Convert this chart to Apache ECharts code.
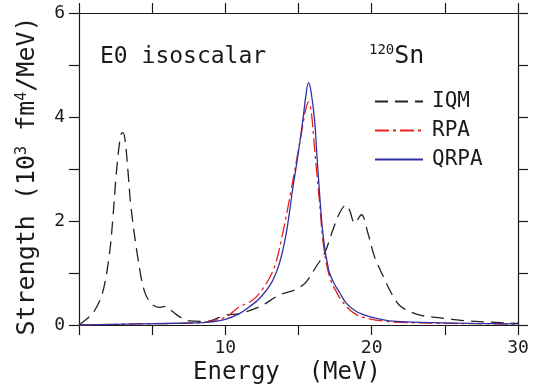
<!DOCTYPE html>
<html>
<head>
<meta charset="utf-8">
<script src="https://cdn.jsdelivr.net/npm/echarts@6/dist/echarts.min.js"></script>
<style>html,body{margin:0;padding:0;background:#fff;}#c{width:543px;height:389px;}</style>
</head>
<body>
<div id="c"></div>
<script>
// ---- data ----
var iqmE = [0, 0.46, 1.03, 1.6, 2.05, 2.3, 2.5, 2.7, 2.88, 3.0, 3.15, 3.35, 3.54, 3.99, 4.45, 4.91, 5.48, 5.89, 6.39, 6.85, 7.5, 8.7, 10.0, 10.96, 12.33, 13.7, 14.4, 14.95, 15.53, 16.2, 16.78, 17.35, 17.8, 18.26, 18.5, 18.84, 19.3, 19.75, 20.2, 20.8, 21.35, 21.9, 22.6, 23.3, 24.2, 25.5, 26.5, 28.8, 30];
var iqmS = [0, 0.10, 0.26, 0.61, 1.30, 2.0, 2.75, 3.35, 3.67, 3.70, 3.55, 2.95, 2.30, 1.35, 0.67, 0.42, 0.34, 0.36, 0.26, 0.16, 0.08, 0.07, 0.19, 0.22, 0.35, 0.58, 0.64, 0.70, 0.83, 1.12, 1.38, 1.83, 2.15, 2.31, 2.2, 1.96, 2.12, 1.76, 1.31, 0.93, 0.61, 0.38, 0.26, 0.19, 0.15, 0.11, 0.08, 0.045, 0.03];

var rpaE = [0, 4, 8, 8.7, 10.0, 10.96, 11.87, 12.67, 13.36, 13.92, 14.5, 14.95, 15.3, 15.5, 15.68, 15.87, 16.03, 16.25, 16.44, 16.7, 17.12, 17.7, 18.26, 18.95, 19.86, 21.0, 22, 24.2, 27, 30];
var rpaS = [0, 0.02, 0.04, 0.06, 0.15, 0.35, 0.48, 0.74, 1.12, 1.76, 2.6, 3.3, 3.85, 4.15, 4.29, 4.1, 3.62, 2.92, 2.35, 1.55, 0.93, 0.58, 0.36, 0.2, 0.12, 0.07, 0.05, 0.035, 0.025, 0.015];

var qrpaE = [0, 4, 8, 8.7, 10.0, 10.96, 11.64, 12.33, 13.13, 13.7, 14.16, 14.61, 14.95, 15.3, 15.5, 15.68, 15.85, 16.1, 16.25, 16.44, 16.6, 16.78, 17.0, 17.12, 17.47, 17.8, 18.26, 18.95, 19.86, 21.0, 22.0, 24.2, 27, 30];
var qrpaS = [0.0, 0.02, 0.04, 0.05, 0.11, 0.22, 0.35, 0.51, 0.80, 1.19, 1.76, 2.63, 3.24, 3.94, 4.4, 4.66, 4.5, 3.94, 3.30, 2.53, 1.95, 1.5, 1.15, 1.0, 0.78, 0.63, 0.42, 0.26, 0.16, 0.09, 0.065, 0.045, 0.03, 0.02];

var seriesNames = ['IQM', 'RPA', 'QRPA'];
var xTicks = [10, 20, 30];
var yTicks = [0, 2, 4, 6];

function pairs(xs, ys) { return xs.map(function (x, i) { return [x, ys[i]]; }); }

var FONT = 'DejaVu Sans Mono';
var INK = '#1a1a1a';
var chart = echarts.init(document.getElementById('c'), null, {renderer: 'canvas'});

var axisLineStyle = {color: INK, width: 1.2};
function xAx(pos, showLabel) {
  return {
    type: 'value', position: pos, min: 0, max: 30, interval: 5,
    axisLine: {show: true, onZero: false, lineStyle: axisLineStyle},
    axisTick: {show: true, inside: false, length: 10, lineStyle: axisLineStyle},
    axisLabel: {show: showLabel, margin: 14, fontFamily: FONT, fontSize: 18, color: INK,
      formatter: function (v) { return xTicks.indexOf(v) >= 0 ? String(v) : ''; }},
    splitLine: {show: false}
  };
}
function yAx(pos, showLabel) {
  return {
    type: 'value', position: pos, min: 0, max: 6, interval: 1,
    axisLine: {show: true, onZero: false, lineStyle: axisLineStyle},
    axisTick: {show: true, inside: false, length: 10, lineStyle: axisLineStyle},
    axisLabel: {show: showLabel, margin: 14, fontFamily: FONT, fontSize: 18, color: INK,
      formatter: function (v) { return yTicks.indexOf(v) >= 0 ? String(v) : ''; }},
    splitLine: {show: false}
  };
}

var option = {
  animation: false,
  backgroundColor: '#fff',
  grid: {left: 79, right: 25, top: 13, bottom: 64, containLabel: false},
  xAxis: [xAx('bottom', true), xAx('top', false)],
  yAxis: [yAx('left', true), yAx('right', false)],
  legend: {
    orient: 'vertical', left: 369, top: 86, itemWidth: 48, itemHeight: 14, itemGap: 8,
    itemStyle: {opacity: 0},
    textStyle: {fontFamily: FONT, fontSize: 21, color: INK, padding: [0, 0, 0, 4]},
    data: seriesNames
  },
  series: [
    {name: seriesNames[0], type: 'line', data: pairs(iqmE, iqmS), symbol: 'none', smooth: 0.35,
     lineStyle: {color: '#222', width: 1.3, type: [13, 7]}, itemStyle: {color: '#222'}},
    {name: seriesNames[1], type: 'line', data: pairs(rpaE, rpaS), symbol: 'none', smooth: 0.35,
     lineStyle: {color: '#e8211d', width: 1.3, type: [14, 4, 3, 4]}, itemStyle: {color: '#e8211d'}},
    {name: seriesNames[2], type: 'line', data: pairs(qrpaE, qrpaS), symbol: 'none', smooth: 0.35,
     lineStyle: {color: '#2e31a3', width: 1.3, type: 'solid'}, itemStyle: {color: '#2e31a3'}}
  ],
  graphic: [
    {type: 'text', x: 100, y: 57,
     style: {text: 'E0 isoscalar', fontFamily: FONT, fontSize: 23, fill: INK, verticalAlign: 'middle'}},
    {type: 'text', x: 369, y: 56,
     style: {text: '{s|120}{n|Sn}', fill: INK, verticalAlign: 'middle',
       rich: {s: {fontFamily: FONT, fontSize: 14, verticalAlign: 'top', fill: INK},
              n: {fontFamily: FONT, fontSize: 25, fill: INK}}}},
    {type: 'text', x: 287, y: 373,
     style: {text: 'Energy  (MeV)', fontFamily: FONT, fontSize: 24, fill: INK, align: 'center', verticalAlign: 'middle'}},
    {type: 'text', x: 27, y: 176, rotation: Math.PI / 2,
     style: {text: 'Strength (10{s|3} fm{s|4}/MeV)', fontFamily: FONT, fontSize: 25, fill: INK,
       align: 'center', verticalAlign: 'middle',
       rich: {s: {fontFamily: FONT, fontSize: 15, verticalAlign: 'top', fill: INK}}}}
  ]
};
chart.setOption(option);
</script>
</body>
</html>
